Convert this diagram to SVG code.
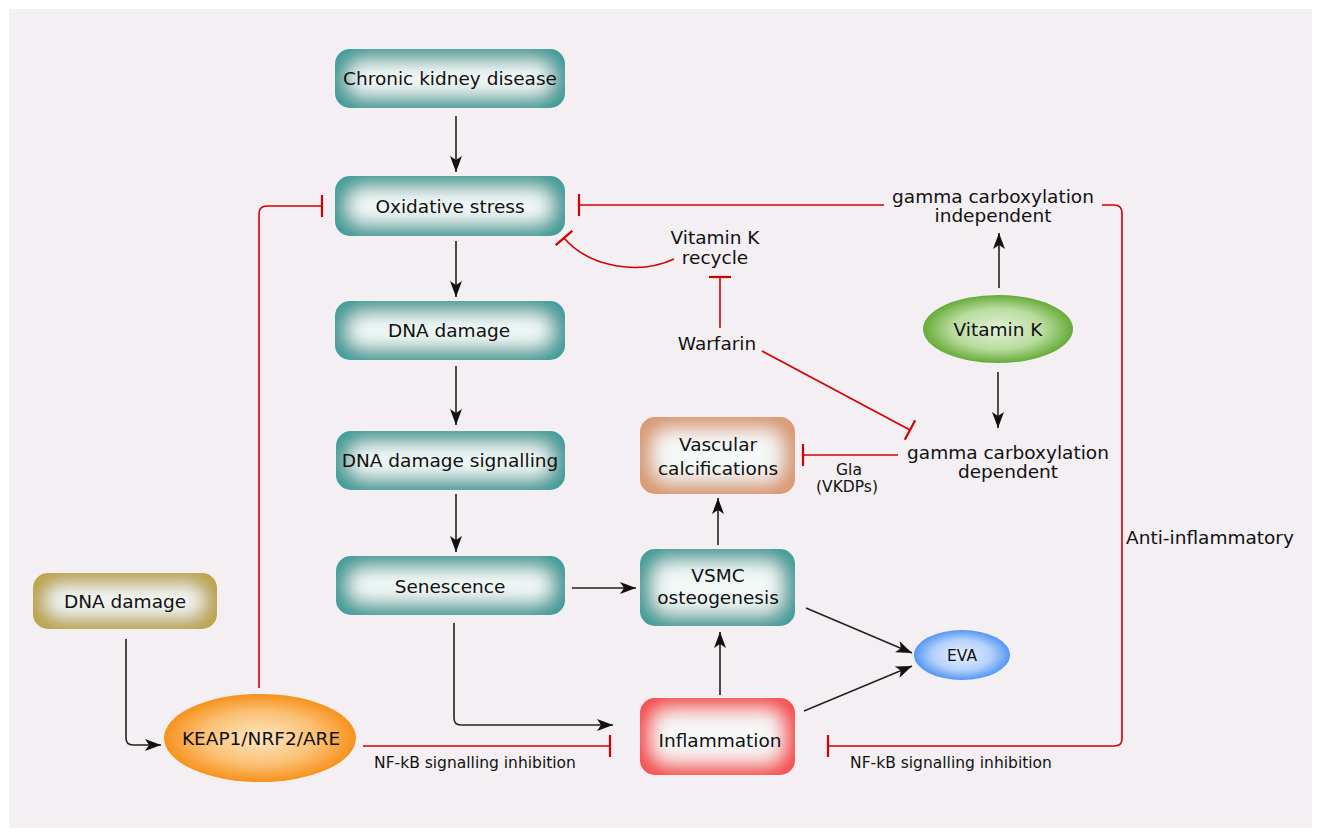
<svg xmlns="http://www.w3.org/2000/svg" width="1321" height="837" viewBox="0 0 1321 837">
<style>
text{font-family:"DejaVu Sans","Verdana",sans-serif;fill:#111;text-anchor:middle}
.n{font-size:18.5px}
.s{font-size:15.5px}
.blk{fill:none;stroke:#222;stroke-width:1.6;marker-end:url(#arr)}
.red{fill:none;stroke:#d40000;stroke-width:1.6;marker-end:url(#bar)}
.box{filter:url(#ig)}
</style>
<defs>
<marker id="arr" viewBox="0 0 16 12" refX="16" refY="6" markerWidth="16" markerHeight="12" markerUnits="userSpaceOnUse" orient="auto">
<path d="M0,0 L16,6 L0,12 L4,6 z" fill="#111"/>
</marker>
<marker id="bar" viewBox="0 0 4 22" refX="2" refY="11" markerWidth="4" markerHeight="22" markerUnits="userSpaceOnUse" orient="auto">
<path d="M2,0 V22" stroke="#d40000" stroke-width="2.2"/>
</marker>
<filter id="ig" x="-10%" y="-20%" width="120%" height="140%">
<feMorphology in="SourceAlpha" operator="erode" radius="13" result="e"/>
<feGaussianBlur in="e" stdDeviation="9" result="b"/>
<feFlood flood-color="#f5fbfa" flood-opacity="0.97"/>
<feComposite in2="b" operator="in" result="glow"/>
<feComposite in="glow" in2="SourceAlpha" operator="in" result="g2"/>
<feMerge><feMergeNode in="SourceGraphic"/><feMergeNode in="g2"/></feMerge>
</filter>
<radialGradient id="orange" cx="50%" cy="50%" r="50%">
<stop offset="0" stop-color="#fde7c4"/><stop offset="0.6" stop-color="#fbc074"/><stop offset="1" stop-color="#f7921c"/>
</radialGradient>
<radialGradient id="green" cx="50%" cy="50%" r="50%">
<stop offset="0" stop-color="#e2f1d6"/><stop offset="0.6" stop-color="#b9dc9e"/><stop offset="1" stop-color="#66ab39"/>
</radialGradient>
<radialGradient id="blue" cx="50%" cy="50%" r="50%">
<stop offset="0" stop-color="#e4efff"/><stop offset="0.6" stop-color="#b5d2fb"/><stop offset="1" stop-color="#5496f4"/>
</radialGradient>
</defs>
<rect x="0" y="0" width="1321" height="837" fill="#ffffff"/>
<rect x="9" y="9" width="1303" height="819" fill="#f3eff3"/>

<g id="connectors">
<path class="blk" d="M456,116 V172"/>
<path class="blk" d="M456,241 V297"/>
<path class="blk" d="M456,366 V425"/>
<path class="blk" d="M456,494 V552"/>
<path class="blk" d="M572,588 H636"/>
<path class="blk" d="M454,623 V718 Q454,725 461,725 H613"/>
<path class="blk" d="M720,695 V632"/>
<path class="blk" d="M718,545 V498"/>
<path class="blk" d="M806,608 L912,653"/>
<path class="blk" d="M804,711 L912,666"/>
<path class="blk" d="M999,288 V233"/>
<path class="blk" d="M998,372 V428"/>
<path class="blk" d="M126,639 V738 Q126,745 133,745 H161"/>
<path class="red" d="M259,688 V214 Q259,206 267,206 H322"/>
<path class="red" d="M884,205 H579"/>
<path class="red" d="M1102,205 H1114 Q1122,205 1122,213 V739 Q1122,746 1114,746 H828"/>
<path class="red" d="M674,259 C640,275 590,268 564,238"/>
<path class="red" d="M720,328 V277"/>
<path class="red" d="M762,351 L910,430"/>
<path class="red" d="M898,455 H803"/>
<path class="red" d="M363,746 H610"/>
</g>

<g id="ckd"><rect class="box" x="335" y="49" width="230" height="59" rx="15" fill="#3f9d98"/><text class="n" x="450" y="85">Chronic kidney disease</text></g>
<g id="oxidative"><rect class="box" x="335" y="176" width="230" height="60" rx="15" fill="#3f9d98"/><text class="n" x="450" y="213">Oxidative stress</text></g>
<g id="dna1"><rect class="box" x="335" y="301" width="230" height="59" rx="15" fill="#3f9d98"/><text class="n" x="449" y="337">DNA damage</text></g>
<g id="dds"><rect class="box" x="336" y="431" width="229" height="59" rx="15" fill="#3f9d98"/><text class="n" x="450" y="467">DNA damage signalling</text></g>
<g id="senescence"><rect class="box" x="336" y="556" width="229" height="59" rx="15" fill="#3f9d98"/><text class="n" x="450" y="593">Senescence</text></g>
<g id="vsmc"><rect class="box" x="640" y="549" width="155" height="77" rx="15" fill="#3f9d98"/><text class="n" x="718" y="582">VSMC</text><text class="n" x="718" y="604">osteogenesis</text></g>
<g id="vascular"><rect class="box" x="640" y="417" width="155" height="77" rx="15" fill="#d99a72"/><text class="n" x="718" y="451">Vascular</text><text class="n" x="718" y="475">calcifications</text></g>
<g id="inflammation"><rect class="box" x="640" y="698" width="155" height="77" rx="15" fill="#f44f50"/><text class="n" x="720" y="747">Inflammation</text></g>
<g id="dna2"><rect class="box" x="33" y="573" width="184" height="56" rx="15" fill="#bba449"/><text class="n" x="125" y="608">DNA damage</text></g>
<g id="keap"><ellipse cx="260" cy="738" rx="96" ry="44" fill="url(#orange)"/><text class="n" x="261" y="745">KEAP1/NRF2/ARE</text></g>
<g id="vitk"><ellipse cx="998" cy="329" rx="75" ry="34" fill="url(#green)"/><text class="n" x="998" y="336">Vitamin K</text></g>
<g id="eva"><ellipse cx="962" cy="655" rx="48" ry="25" fill="url(#blue)"/><text class="s" x="962" y="661">EVA</text></g>

<g id="labels">
<text class="n" x="993" y="203">gamma carboxylation</text>
<text class="n" x="993" y="222">independent</text>
<text class="n" x="715" y="244">Vitamin K</text>
<text class="n" x="715" y="264">recycle</text>
<text class="n" x="717" y="350">Warfarin</text>
<text class="n" x="1008" y="459">gamma carboxylation</text>
<text class="n" x="1008" y="478">dependent</text>
<text class="s" x="849" y="475">Gla</text>
<text class="s" x="847" y="492">(VKDPs)</text>
<text class="n" x="1210" y="544">Anti-inflammatory</text>
<text class="s" x="475" y="768">NF-kB signalling inhibition</text>
<text class="s" x="951" y="768">NF-kB signalling inhibition</text>
</g>
</svg>
